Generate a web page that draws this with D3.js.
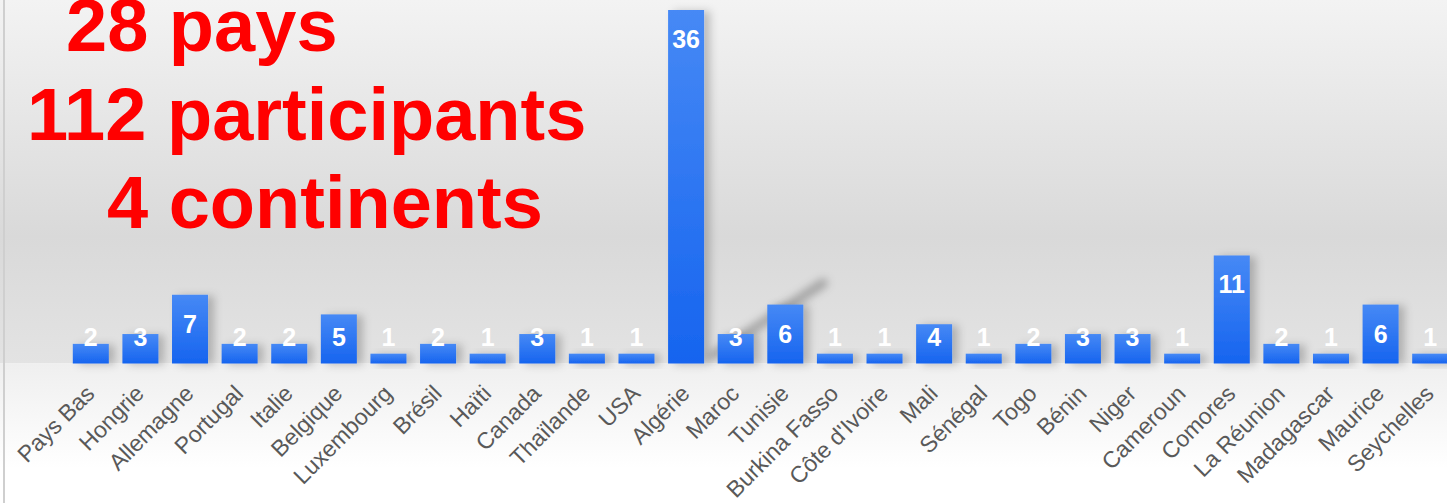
<!DOCTYPE html>
<html>
<head>
<meta charset="utf-8">
<script src="https://cdn.jsdelivr.net/npm/d3@7"></script>
<style>
  html, body { margin: 0; padding: 0; background: #fff; }
  svg { display: block; }
</style>
</head>
<body>
<div id="chart"></div>
<script>
"use strict";

// data
let countries = ["Pays Bas", "Hongrie", "Allemagne", "Portugal", "Italie", "Belgique", "Luxembourg",
  "Brésil", "Haïti", "Canada", "Thaïlande", "USA", "Algérie", "Maroc", "Tunisie", "Burkina Fasso",
  "Côte d'Ivoire", "Mali", "Sénégal", "Togo", "Bénin", "Niger", "Cameroun", "Comores", "La Réunion",
  "Madagascar", "Maurice", "Seychelles"];
let participants = [2, 3, 7, 2, 2, 5, 1, 2, 1, 3, 1, 1, 36, 3, 6, 1, 1, 4, 1, 2, 3, 3, 1, 11, 2, 1, 6, 1];
let titleLines = ["28 pays", "112 participants", "4 continents"];
let titleX = [66, 27, 107];

let width = 1447,
  height = 503;

let baseY = 363.5;

let svg = d3.select("#chart")
  .append("svg")
  .attr("width", width)
  .attr("height", height);

let defs = svg.append("defs");

// plot background: grey band that darkens toward the bars
let bgGrad = defs.append("linearGradient")
  .attr("id", "bgGrad")
  .attr("x1", 0).attr("y1", 0).attr("x2", 0).attr("y2", 1);
bgGrad.append("stop").attr("offset", "0%").attr("stop-color", "#f3f3f3");
bgGrad.append("stop").attr("offset", "65%").attr("stop-color", "#d9d9d9");
bgGrad.append("stop").attr("offset", "100%").attr("stop-color", "#e3e3e3");

let floorGrad = defs.append("linearGradient")
  .attr("id", "floorGrad")
  .attr("x1", 0).attr("y1", 0).attr("x2", 0).attr("y2", 1);
floorGrad.append("stop").attr("offset", "0%").attr("stop-color", "#efefef");
floorGrad.append("stop").attr("offset", "75%").attr("stop-color", "#ffffff");
floorGrad.append("stop").attr("offset", "100%").attr("stop-color", "#ffffff");

let barGrad = defs.append("linearGradient")
  .attr("id", "barGrad")
  .attr("x1", 0).attr("y1", 0).attr("x2", 0).attr("y2", 1);
barGrad.append("stop").attr("offset", "0%").attr("stop-color", "#4689f5");
barGrad.append("stop").attr("offset", "100%").attr("stop-color", "#1664ef");

let shadow = defs.append("filter")
  .attr("id", "shadow")
  .attr("x", "-50%").attr("y", "-50%")
  .attr("width", "200%").attr("height", "200%");
shadow.append("feDropShadow")
  .attr("dx", 6).attr("dy", 1)
  .attr("stdDeviation", 4)
  .attr("flood-color", "#000")
  .attr("flood-opacity", 0.22);

let blur = defs.append("filter")
  .attr("id", "blur")
  .attr("x", "-50%").attr("y", "-50%")
  .attr("width", "200%").attr("height", "200%");
blur.append("feGaussianBlur").attr("stdDeviation", 4);

svg.append("rect")
  .attr("x", 0).attr("y", 0)
  .attr("width", width).attr("height", baseY)
  .attr("fill", "url(#bgGrad)");

svg.append("rect")
  .attr("x", 0).attr("y", baseY)
  .attr("width", width).attr("height", height - baseY)
  .attr("fill", "url(#floorGrad)");

// left frame edge
svg.append("line")
  .attr("x1", 4).attr("x2", 4)
  .attr("y1", 0).attr("y2", height)
  .style("stroke", "#cfcfcf")
  .style("stroke-width", 2);

let x = d3.scaleBand()
  .domain(countries)
  .range([66, 1455])
  .paddingInner(0.274)
  .paddingOuter(0.137);

let y = d3.scaleLinear()
  .domain([0, d3.max(participants)])
  .range([baseY, 10]);

let data = countries.map((c, i) => ({ country: c, value: participants[i] }));

// stray diagonal shadow between Maroc and Tunisie
svg.append("line")
  .attr("x1", x("Maroc") - 5).attr("y1", y(0.8))
  .attr("x2", x("Tunisie") + x.bandwidth() + 20).attr("y2", y(8.2))
  .style("stroke", "#000")
  .style("stroke-opacity", 0.28)
  .style("stroke-width", 9)
  .style("stroke-linecap", "round")
  .attr("filter", "url(#blur)");

svg.append("g")
  .selectAll(".bar")
  .data(data)
  .enter().append("rect")
  .attr("class", "bar")
  .attr("x", d => x(d.country))
  .attr("y", d => y(d.value))
  .attr("width", x.bandwidth())
  .attr("height", d => baseY - y(d.value))
  .attr("fill", "url(#barGrad)")
  .attr("filter", "url(#shadow)");

svg.append("g")
  .selectAll(".valueLabel")
  .data(data)
  .enter().append("text")
  .attr("class", "valueLabel")
  .attr("x", d => x(d.country) + x.bandwidth() / 2)
  .attr("y", d => Math.min(y(d.value) + 38, 346))
  .attr("text-anchor", "middle")
  .style("font-family", "'Liberation Sans', Arial, sans-serif")
  .style("font-weight", "bold")
  .style("font-size", "25px")
  .style("fill", "#fff")
  .text(d => d.value);

// category labels, rotated 45 degrees
svg.append("g")
  .selectAll(".catLabel")
  .data(countries)
  .enter().append("text")
  .attr("class", "catLabel")
  .attr("transform", d => {
    let px = x(d) + x.bandwidth() / 2 + 5;
    return "translate(" + px + ", 395) rotate(-45)";
  })
  .attr("text-anchor", "end")
  .style("font-family", "'Liberation Sans', Arial, sans-serif")
  .style("font-size", "23px")
  .style("fill", "#595959")
  .text(d => d);

// big red headline
svg.append("g")
  .selectAll(".headline")
  .data(titleLines)
  .enter().append("text")
  .attr("class", "headline")
  .attr("x", (d, i) => titleX[i])
  .attr("y", (d, i) => 51 + i * 88.5)
  .style("font-family", "'Liberation Sans', Arial, sans-serif")
  .style("font-weight", "bold")
  .style("font-size", "74px")
  .style("fill", "#ff0000")
  .text(d => d);
</script>
</body>
</html>
